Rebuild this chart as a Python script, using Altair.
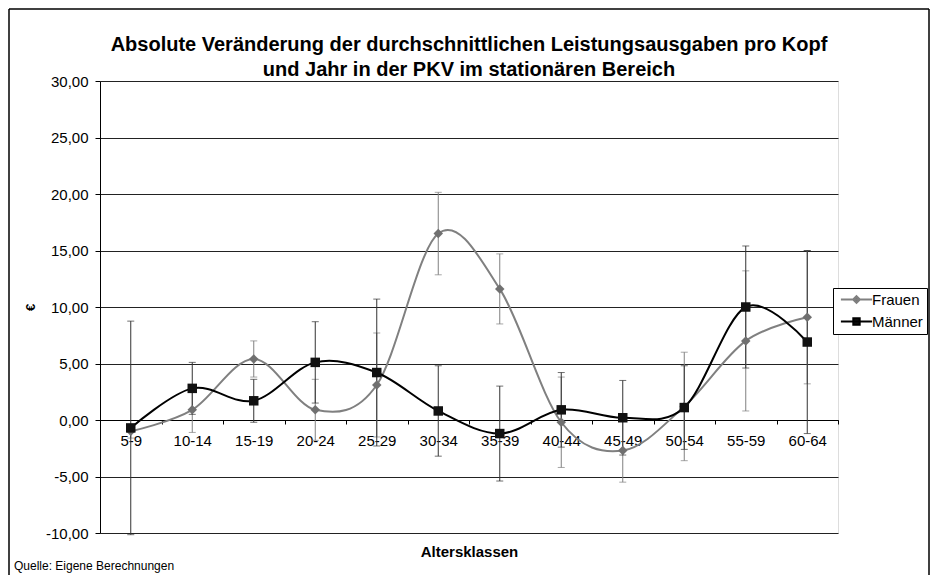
import altair as alt
import pandas as pd

categories = ["5-9", "10-14", "15-19", "20-24", "25-29", "30-34",
              "35-39", "40-44", "45-49", "50-54", "55-59", "60-64"]
series = ["Frauen", "Männer"]
frauen = [-1.0, 0.9, 5.4, 0.9, 3.1, 16.5, 11.6, -0.2, -2.7, 1.2, 7.0, 9.1]
frauen_err = [0.6, 2.0, 1.6, 2.7, 4.6, 3.65, 3.1, 4.0, 2.8, 4.8, 6.2, 5.9]
maenner = [-0.7, 2.8, 1.7, 5.1, 4.2, 0.8, -1.2, 0.9, 0.2, 1.1, 10.0, 6.9]
maenner_err = [9.45, 2.3, 1.9, 3.6, 6.5, 4.0, 4.2, 3.3, 3.3, 3.7, 5.4, 8.1]
y_ticks = [-10, -5, 0, 5, 10, 15, 20, 25, 30]

title_lines = ["Absolute Veränderung der durchschnittlichen Leistungsausgaben pro Kopf",
               "und Jahr in der PKV im stationären Bereich"]
source_note = "Quelle: Eigene Berechnungen"

FONT = "Liberation Sans, Arial, sans-serif"

rows = []
for s, vals, errs in [("Frauen", frauen, frauen_err), ("Männer", maenner, maenner_err)]:
    for i, (c, v, e) in enumerate(zip(categories, vals, errs)):
        rows.append({"category": c, "series": s, "value": v,
                     "lo": v - e, "hi": v + e, "order": i})
df = pd.DataFrame(rows)

W, H = 738, 452
PL, PT, PR, PB = 92, 73, 92, 42
y_scale = alt.Scale(domain=[-10, 30], nice=False, zero=False)
x_scale = alt.Scale(type="band", domain=categories, paddingInner=0, paddingOuter=0)
offset0 = -round(H * 10 / 40)

x_axis = alt.Axis(title="Altersklassen", offset=offset0, tickBand="extent", labelAngle=0,
                  domainColor="black", tickColor="black", tickSize=4, labelPadding=9,
                  labelFontSize=15, labelFont=FONT, labelColor="black",
                  titleFontSize=15, titleFont=FONT, titleFontWeight="bold", titleColor="black",
                  titleY=124, titleBaseline="top", grid=False)
y_axis = alt.Axis(values=y_ticks,
                  labelExpr="(datum.value < 0 ? '-' : '') + replace(format(abs(datum.value), '.2f'), '.', ',')",
                  grid=True, gridColor="#222222", gridWidth=1,
                  domainColor="black", tickColor="black", tickSize=5, labelPadding=7,
                  labelFontSize=15, labelFont=FONT, labelColor="black",
                  title="€", titleFontSize=13, titleFont=FONT, titleFontWeight="bold",
                  titleColor="black", titleX=-63, titleY=226)

X = alt.X("category:N", scale=x_scale, axis=x_axis, sort=categories)
Xn = alt.X("category:N", scale=x_scale, sort=categories)

styles = {
    "Frauen": dict(line="#808080", marker="#707070", err="#808080", shape="diamond", size=90),
    "Männer": dict(line="#000000", marker="#111111", err="#333333", shape="square", size=90),
}

base = alt.Chart(df)
layers = []
# axes carrier
layers.append(base.mark_point(opacity=0).encode(
    x=X, y=alt.Y("value:Q", scale=y_scale, axis=y_axis)))
for s in series:
    st = styles[s]
    b = base.transform_filter(alt.datum.series == s)
    layers.append(b.mark_rule(color=st["err"], strokeWidth=1).encode(
        x=Xn, y=alt.Y("lo:Q", scale=y_scale), y2="hi:Q"))
    layers.append(b.mark_tick(color=st["err"], size=7, thickness=1).encode(
        x=Xn, y=alt.Y("lo:Q", scale=y_scale)))
    layers.append(b.mark_tick(color=st["err"], size=7, thickness=1).encode(
        x=Xn, y=alt.Y("hi:Q", scale=y_scale)))
for s in series:
    st = styles[s]
    b = base.transform_filter(alt.datum.series == s)
    layers.append(b.mark_line(color=st["line"], strokeWidth=2, interpolate="cardinal").encode(
        x=Xn, y=alt.Y("value:Q", scale=y_scale), order="order:Q"))
for s in series:
    st = styles[s]
    b = base.transform_filter(alt.datum.series == s)
    layers.append(b.mark_point(filled=True, color=st["marker"], shape=st["shape"],
                               size=st["size"], opacity=1).encode(
        x=Xn, y=alt.Y("value:Q", scale=y_scale)))

# legend carrier
pathF = "M-3.9,0H3.9M0,-0.85L0.85,0L0,0.85L-0.85,0Z"
pathM = "M-3.9,0H3.9M-0.8,-0.8H0.8V0.8H-0.8Z"
leg = alt.Legend(orient="none", legendX=733, legendY=207, title=None,
                 strokeColor="black", fillColor="white", padding=4,
                 symbolSize=64, symbolStrokeWidth=2, symbolOpacity=1,
                 symbolOffset=12, labelOffset=8, labelFontSize=15, labelFont=FONT,
                 labelColor="black", rowPadding=6)
legend_df = pd.DataFrame({"series": series, "category": [categories[0]] * 2, "value": [0, 0]})
layers.append(alt.Chart(legend_df).mark_point(filled=True, opacity=0).encode(
    x=Xn, y=alt.Y("value:Q", scale=y_scale),
    shape=alt.Shape("series:N", scale=alt.Scale(domain=series, range=[pathF, pathM]), legend=leg),
    fill=alt.Fill("series:N", scale=alt.Scale(domain=series, range=["#707070", "#111111"]), legend=leg),
    stroke=alt.Stroke("series:N", scale=alt.Scale(domain=series, range=["#808080", "#000000"]), legend=leg),
))

one = pd.DataFrame({"t": [source_note]})
layers.append(alt.Chart(one).mark_text(align="left", baseline="middle", fontSize=12,
                                       font=FONT, color="black").encode(
    x=alt.value(-86), y=alt.value(H + 33), text="t:N"))

# chart title (two lines) as text marks
for k, line in enumerate(title_lines):
    tdf = pd.DataFrame({"t": [line]})
    layers.append(alt.Chart(tdf).mark_text(align="center", baseline="middle", fontSize=20,
                                           fontWeight="bold", font=FONT, color="black").encode(
        x=alt.value(W / 2), y=alt.value(-36 + 25 * k), text="t:N"))

# outer frame of the whole chart (left, top, right edges)
fl, fr, ft, fb = -PL + 1, W + PR - 1, -PT + 1, H + PB + 5
layers.append(alt.Chart(one).mark_rule(color="black", strokeWidth=1.5).encode(
    x=alt.value(fl), y=alt.value(ft), y2=alt.value(fb)))
layers.append(alt.Chart(one).mark_rule(color="black", strokeWidth=1.5).encode(
    x=alt.value(fr), y=alt.value(ft), y2=alt.value(fb)))
layers.append(alt.Chart(one).mark_rule(color="black", strokeWidth=1.5).encode(
    x=alt.value(fl), x2=alt.value(fr), y=alt.value(ft)))

chart = alt.layer(*layers).properties(
    width=W, height=H,
    autosize=alt.AutoSizeParams(type="none"),
    padding={"left": PL, "top": PT, "right": PR, "bottom": PB},
).configure_view(stroke="#808080", strokeWidth=1).configure(background="white")

chart.save("out.html", embed_options={"renderer": "svg", "actions": False})
